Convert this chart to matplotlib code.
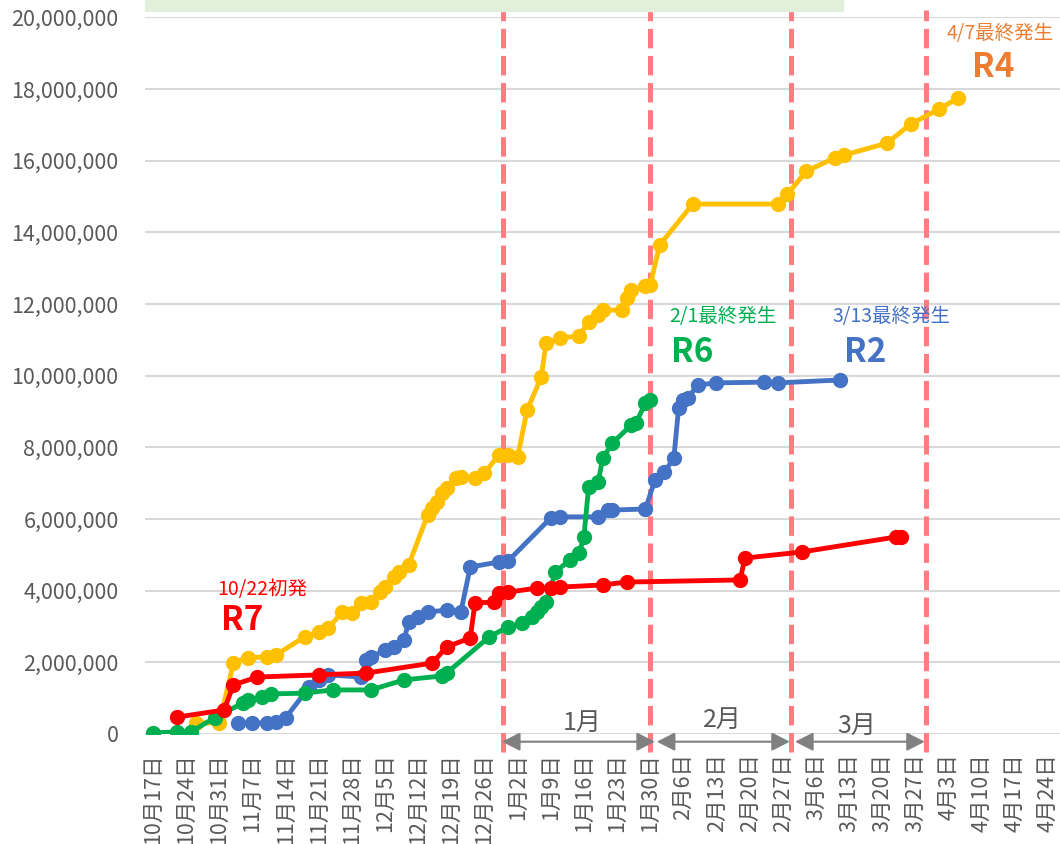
import matplotlib
matplotlib.use("Agg")
import matplotlib.pyplot as plt
from matplotlib.patches import Rectangle, FancyArrowPatch
from matplotlib.ticker import FuncFormatter
from datetime import date

plt.rcParams['font.family'] = ['Noto Sans CJK JP', 'DejaVu Sans']
plt.rcParams['lines.scale_dashes'] = False

# ---------------- data (values in millions of birds) ----------------
r4_dates = ["10/26", "10/31", "11/3", "11/6", "11/10", "11/12", "11/18", "11/21", "11/23",
            "11/26", "11/28", "11/30", "12/2", "12/4", "12/5", "12/7", "12/8", "12/10",
            "12/14", "12/15", "12/16", "12/17", "12/18", "12/20", "12/21", "12/24", "12/26",
            "12/29", "12/31", "1/2", "1/4", "1/7", "1/8", "1/11", "1/15", "1/17", "1/19",
            "1/20", "1/24", "1/25", "1/26", "1/29", "1/30", "2/1", "2/8", "2/26", "2/28",
            "3/4", "3/10", "3/12", "3/21", "3/26", "4/1", "4/5"]
r4_values = [0.31, 0.31, 1.99, 2.13, 2.15, 2.21, 2.71, 2.85, 2.96,
             3.40, 3.38, 3.66, 3.68, 3.96, 4.10, 4.38, 4.52, 4.72,
             6.11, 6.31, 6.47, 6.73, 6.87, 7.14, 7.17, 7.14, 7.28,
             7.79, 7.79, 7.73, 9.04, 9.96, 10.91, 11.05, 11.11, 11.50, 11.69,
             11.83, 11.83, 12.17, 12.39, 12.50, 12.53, 13.65, 14.79, 14.79, 15.07,
             15.71, 16.08, 16.16, 16.49, 17.02, 17.44, 17.75]

r2_dates = ["11/4", "11/7", "11/10", "11/12", "11/14", "11/19", "11/21", "11/23", "11/30",
            "12/1", "12/2", "12/5", "12/7", "12/9", "12/10", "12/12", "12/14", "12/18",
            "12/21", "12/23", "12/29", "12/31", "1/9", "1/11", "1/19", "1/21", "1/22",
            "1/29", "1/31", "2/2", "2/4", "2/5", "2/6", "2/7", "2/9", "2/13", "2/23",
            "2/26", "3/11"]
r2_values = [0.31, 0.31, 0.31, 0.33, 0.45, 1.31, 1.51, 1.65, 1.59,
             2.07, 2.15, 2.34, 2.43, 2.62, 3.13, 3.27, 3.40, 3.46,
             3.40, 4.66, 4.80, 4.83, 6.03, 6.06, 6.06, 6.25, 6.25,
             6.28, 7.09, 7.31, 7.70, 9.10, 9.32, 9.38, 9.74, 9.80, 9.82,
             9.80, 9.88]

r6_dates = ["10/17", "10/22", "10/25", "10/30", "11/5", "11/6", "11/9", "11/11", "11/18",
            "11/24", "12/2", "12/9", "12/17", "12/18", "12/27", "12/31", "1/3", "1/5",
            "1/6", "1/7", "1/8", "1/10", "1/13", "1/15", "1/16", "1/17", "1/19", "1/20",
            "1/22", "1/26", "1/27", "1/29", "1/30"]
r6_values = [0.03, 0.06, 0.06, 0.45, 0.87, 0.95, 1.03, 1.12, 1.14,
             1.23, 1.23, 1.51, 1.62, 1.70, 2.71, 2.99, 3.10, 3.27,
             3.40, 3.54, 3.68, 4.52, 4.86, 5.05, 5.50, 6.89, 7.03, 7.70,
             8.12, 8.62, 8.68, 9.24, 9.32]

r7_dates = ["10/22", "11/1", "11/3", "11/8", "11/21", "12/1", "12/15", "12/18", "12/23",
            "12/24", "12/28", "12/29", "12/31", "1/6", "1/9", "1/11", "1/20", "1/25",
            "2/18", "2/19", "3/3", "3/23", "3/24"]
r7_values = [0.47, 0.67, 1.37, 1.59, 1.65, 1.70, 1.98, 2.43, 2.68,
             3.66, 3.68, 3.94, 3.96, 4.07, 4.07, 4.10, 4.16, 4.24,
             4.30, 4.91, 5.08, 5.50, 5.50]

tick_labels = ["10月17日", "10月24日", "10月31日", "11月7日", "11月14日", "11月21日", "11月28日",
               "12月5日", "12月12日", "12月19日", "12月26日", "1月2日", "1月9日", "1月16日",
               "1月23日", "1月30日", "2月6日", "2月13日", "2月20日", "2月27日", "3月6日",
               "3月13日", "3月20日", "3月27日", "4月3日", "4月10日", "4月17日", "4月24日"]
month_labels = ["1月", "2月", "3月"]

# ---------------- helpers ----------------
START = date(2001, 10, 17)


def day(md):
    m, d = map(int, md.split('/'))
    y = 2001 if m >= 10 else 2002
    return (date(y, m, d) - START).days


W, H = 1060, 844
fig = plt.figure(figsize=(W / 100, H / 100), dpi=100)
ax = fig.add_axes([145 / W, 110 / H, 915 / W, (734 - 17.4) / H])

GRAY = '#595959'
ax.set_xlim(-1.69, 191.55)
ax.set_ylim(0, 20e6)
ax.set_yticks([i * 2e6 for i in range(11)])
ax.yaxis.set_major_formatter(FuncFormatter(lambda v, p: f"{int(round(v)):,}"))
ax.set_xticks([7 * i for i in range(len(tick_labels))])
ax.set_xticklabels(tick_labels, rotation=90)
ax.tick_params(axis='both', length=0, colors=GRAY)
ax.tick_params(axis='y', pad=19, labelsize=15.5)
ax.tick_params(axis='x', pad=14, labelsize=15.5)
for s in ax.spines.values():
    s.set_visible(False)
ax.yaxis.grid(True, color='#D9D9D9', lw=1.5)
ax.set_axisbelow(True)

# month boundary dashed lines (drawn shapes)
for xb in [73.9, 105.0, 134.8, 163.3]:
    ax.plot([xb, xb], [-0.5e6, 20.2e6], color='#FF7C80', lw=3.6,
            linestyle=(0, (14, 5.5)), clip_on=False, zorder=1.5)

series = [
    (r2_dates, r2_values, '#4472C4'),
    (r4_dates, r4_values, '#FFC000'),
    (r6_dates, r6_values, '#00B050'),
    (r7_dates, r7_values, '#FF0000'),
]
for ds, vs, c in series:
    ax.plot([day(d) for d in ds], [v * 1e6 for v in vs], color=c, lw=3.5,
            marker='o', markersize=10, zorder=3)

# month arrows
arrow_spans = [(73.7, 106.0), (106.4, 134.5), (135.6, 163.0)]
label_pos = [(90.6, 0.31e6), (120.2, 0.39e6), (148.7, 0.22e6)]
for (a, b), lab, (lx, ly) in zip(arrow_spans, month_labels, label_pos):
    arr = FancyArrowPatch((a, -0.215e6), (b, -0.215e6),
                          arrowstyle='<|-|>,head_length=0.55,head_width=0.28',
                          mutation_scale=20, color='#808080', lw=1.5,
                          shrinkA=0, shrinkB=0, clip_on=False, zorder=4)
    ax.add_patch(arr)
    ax.text(lx, ly, lab, fontsize=18, color=GRAY, ha='center', va='center', zorder=4)

# annotations
ax.text(23.0, 4.02e6, "10/22初発", color='#FF0000', fontsize=14, ha='center', va='center')
ax.text(18.8, 3.18e6, "R7", color='#FF0000', fontsize=24, fontweight='bold', ha='center', va='center')
ax.text(120.4, 11.64e6, "2/1最終発生", color='#00B050', fontsize=14, ha='center', va='center')
ax.text(113.8, 10.66e6, "R6", color='#00B050', fontsize=24, fontweight='bold', ha='center', va='center')
ax.text(155.9, 11.64e6, "3/13最終発生", color='#4472C4', fontsize=14, ha='center', va='center')
ax.text(150.4, 10.66e6, "R2", color='#4472C4', fontsize=24, fontweight='bold', ha='center', va='center')
ax.text(178.9, 19.56e6, "4/7最終発生", color='#ED7D31', fontsize=14, ha='center', va='center')
ax.text(177.5, 18.59e6, "R4", color='#ED7D31', fontsize=24, fontweight='bold', ha='center', va='center')

# light green band at top
fig.patches.append(Rectangle((145 / W, 1 - 11 / H), (843 - 145) / W, 11 / H,
                             transform=fig.transFigure, color='#E2EFDA', zorder=0))

fig.savefig("out.png", dpi=100)
